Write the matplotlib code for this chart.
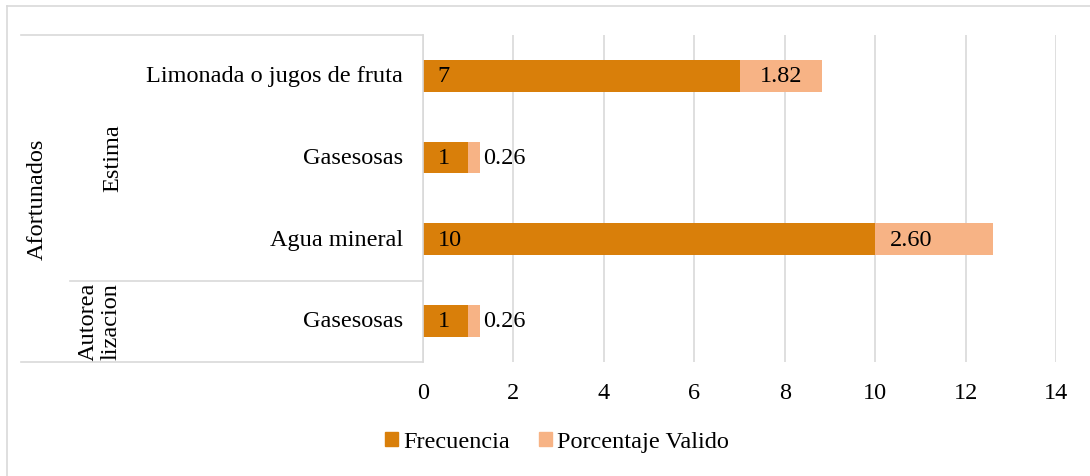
import matplotlib
matplotlib.use("Agg")
import matplotlib.pyplot as plt
from matplotlib.lines import Line2D
from matplotlib.patches import Patch
from matplotlib.transforms import blended_transform_factory

# ---- data ----
categories = ["Limonada o jugos de fruta", "Gasesosas", "Agua mineral", "Gasesosas"]
level2 = ["Estima", "Estima", "Estima", "Autorea\nlizacion"]
level1 = "Afortunados"
frecuencia = [7, 1, 10, 1]
porcentaje = [1.82, 0.26, 2.60, 0.26]
series_names = ["Frecuencia", "Porcentaje Valido"]
xticks = [0, 2, 4, 6, 8, 10, 12, 14]

# ---- style ----
plt.rcParams['font.family'] = ['Liberation Serif', 'DejaVu Serif']
FS = 17.5
C_DARK = "#D97F0A"
C_LIGHT = "#F7B385"
GRID = "#D9D9D9"

W, H = 1090, 477
fig = plt.figure(figsize=(W / 100, H / 100), dpi=100)
ax = fig.add_axes([423 / W, 1 - 362.5 / H, (1056 - 423) / W, (362.5 - 36) / H])

y = list(range(len(categories)))
bh = 0.39
ax.barh(y, frecuencia, height=bh, color=C_DARK, zorder=3)
ax.barh(y, porcentaje, left=frecuencia, height=bh, color=C_LIGHT, zorder=3)

ax.set_ylim(len(categories) - 0.5, -0.5)
ax.set_xlim(0, 14)
ax.set_xticks(xticks)
ax.set_xticklabels([str(t) for t in xticks], fontsize=FS)
ax.tick_params(axis='x', length=0, pad=15)
ax.set_yticks([])
for s in ax.spines.values():
    s.set_visible(False)
ax.grid(axis='x', color=GRID, linewidth=1.2, zorder=0)
ax.set_axisbelow(True)

# data labels
for i, (f, p) in enumerate(zip(frecuencia, porcentaje)):
    ax.annotate(str(f), xy=(0, i), xytext=(10.5, 0), textcoords='offset points',
                ha='left', va='center', fontsize=FS, zorder=4)
    seg_px = p * 633 / 14
    if seg_px > 60:
        if i == 0:
            ax.text(f + p / 2, i, f"{p:.2f}", ha='center', va='center', fontsize=FS, zorder=4)
        else:
            ax.annotate(f"{p:.2f}", xy=(f, i), xytext=(10.5, 0), textcoords='offset points',
                        ha='left', va='center', fontsize=FS, zorder=4)
    else:
        ax.annotate(f"{p:.2f}", xy=(f + p, i), xytext=(2, 0), textcoords='offset points',
                    ha='left', va='center', fontsize=FS, zorder=4)

# category labels (multi-level)
tr = blended_transform_factory(fig.transFigure, ax.transData)
for i, c in enumerate(categories):
    ax.text(403 / W, i, c, transform=tr, ha='right', va='center', fontsize=FS, clip_on=False)

# level 2 groups
groups = []
for i, g in enumerate(level2):
    if groups and groups[-1][0] == g:
        groups[-1][2] = i
    else:
        groups.append([g, i, i])
for g, a, b in groups:
    xc = 113 if "\n" not in g else 100
    ax.text(xc / W, (a + b) / 2, g, transform=tr, ha='center', va='center', rotation=90,
            fontsize=FS, clip_on=False, linespacing=1.12)
# level 1
ax.text(37 / W, (len(categories) - 1) / 2, level1, transform=tr, ha='center', va='center',
        rotation=90, fontsize=FS, clip_on=False)

# table lines
def fline(x0, y0, x1, y1):
    fig.add_artist(Line2D([x0 / W, x1 / W], [1 - y0 / H, 1 - y1 / H], color=GRID, linewidth=1.2))

fline(21, 36, 423, 36)
fline(21, 362.5, 423, 362.5)
fline(423, 36, 423, 362.5)
fline(70, 282, 423, 282)
# outer chart border
fline(7, 7, W, 7)
fline(7, 7, 7, H)

# legend
handles = [Patch(color=C_DARK, label=series_names[0]), Patch(color=C_LIGHT, label=series_names[1])]
fig.legend(handles=handles, loc='center', bbox_to_anchor=(557 / W, 1 - 443 / H), ncol=2,
           frameon=False, fontsize=FS, handlelength=0.53, handleheight=0.53,
           handletextpad=0.22, columnspacing=1.2)

fig.savefig("out.png", dpi=100)
